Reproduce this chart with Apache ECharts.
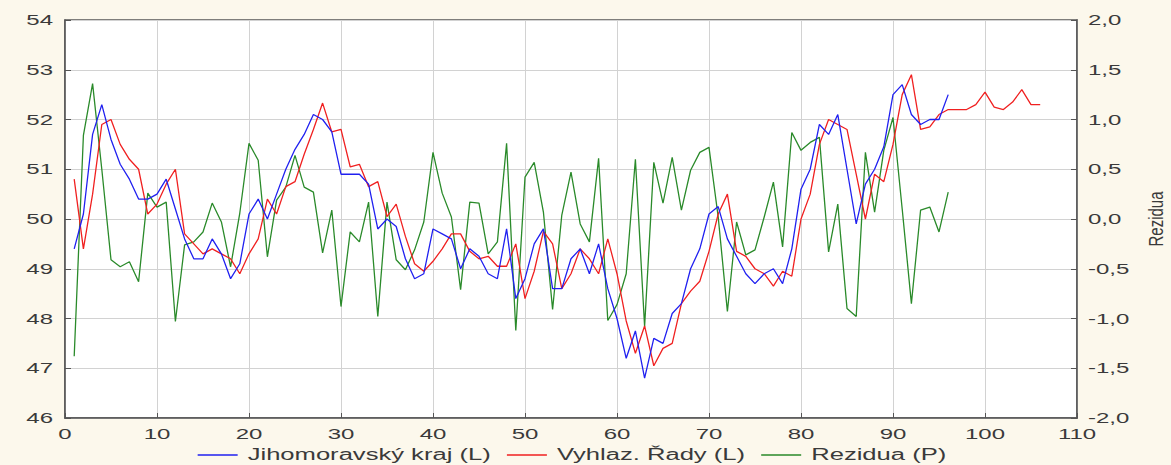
<!DOCTYPE html>
<html>
<head>
<meta charset="utf-8">
<script src="https://cdn.jsdelivr.net/npm/echarts@6/dist/echarts.min.js"></script>
<style>
  html, body { margin: 0; padding: 0; background: #fcf8ec; overflow: hidden; }
  #chart { width: 1171px; height: 465px; }
</style>
</head>
<body>
<div id="chart"></div>
<script>
// Jihomoravský kraj – observed series (left axis), indices 1..96
const jihomoravsky = [
  49.4, 50.1, 51.7, 52.3, 51.6, 51.1, 50.8, 50.4, 50.4, 50.5,
  50.8, 50.2, 49.6, 49.2, 49.2, 49.6, 49.3, 48.8, 49.1, 50.1,
  50.4, 50.0, 50.5, 51.0, 51.4, 51.7, 52.1, 52.0, 51.75, 50.9,
  50.9, 50.9, 50.7, 49.8, 50.0, 49.85, 49.2, 48.8, 48.9, 49.8,
  49.7, 49.6, 49.0, 49.4, 49.25, 48.9, 48.8, 49.8, 48.4, 48.8,
  49.5, 49.8, 48.6, 48.6, 49.2, 49.4, 48.9, 49.5, 48.6, 48.0,
  47.2, 47.75, 46.8, 47.6, 47.5, 48.1, 48.3, 49.0, 49.4, 50.1,
  50.25, 49.6, 49.25, 48.9, 48.7, 48.9, 49.0, 48.7, 49.4, 50.6,
  51.0, 51.9, 51.7, 52.1, 51.0, 49.9, 50.7, 51.0, 51.45, 52.5,
  52.7, 52.1, 51.9, 52.0, 52.0, 52.5
];

// Smoothed series incl. forecast (left axis), indices 1..106
const vyhlazene = [
  50.8, 49.4, 50.5, 51.9, 52.0, 51.5, 51.2, 51.0, 50.1, 50.3,
  50.7, 51.0, 49.7, 49.5, 49.3, 49.4, 49.3, 49.2, 48.9, 49.3,
  49.6, 50.4, 50.1, 50.65, 50.75, 51.3, 51.8, 52.33, 51.75, 51.8,
  51.05, 51.1, 50.65, 50.75, 50.05, 50.3, 49.65, 49.1, 48.95, 49.15,
  49.4, 49.7, 49.7, 49.35, 49.2, 49.25, 49.05, 49.05, 49.5, 48.4,
  48.95, 49.75, 49.5, 48.6, 48.9, 49.4, 49.2, 48.9, 49.6, 48.9,
  47.95, 47.3, 47.85, 47.05, 47.4, 47.5, 48.3, 48.55, 48.75, 49.35,
  50.1, 50.5, 49.35, 49.25, 49.0, 48.9, 48.65, 48.95, 48.85, 50.0,
  50.5, 51.5, 52.0, 51.9, 51.8, 50.9, 50.0, 50.9, 50.75, 51.5,
  52.5, 52.9, 51.8, 51.85, 52.1, 52.2, 52.2, 52.2, 52.3, 52.55,
  52.25, 52.2, 52.35, 52.6, 52.3, 52.3
];

// Residuals (right axis), indices 1..96
const rezidua = [
  -1.38, 0.84, 1.36, 0.5, -0.41, -0.48, -0.43, -0.63, 0.26, 0.12,
  0.17, -1.03, -0.26, -0.23, -0.13, 0.16, -0.03, -0.48, 0.06, 0.76,
  0.59, -0.38, 0.19, 0.32, 0.64, 0.32, 0.27, -0.34, 0.09, -0.88,
  -0.13, -0.23, 0.17, -0.98, 0.17, -0.41, -0.51, -0.31, -0.03, 0.67,
  0.26, 0.02, -0.71, 0.17, 0.16, -0.35, -0.23, 0.76, -1.12, 0.42,
  0.57, 0.07, -0.91, 0.04, 0.47, -0.05, -0.23, 0.61, -1.02, -0.86,
  -0.55, 0.6, -1.08, 0.57, 0.16, 0.62, 0.09, 0.49, 0.67, 0.72,
  0.02, -0.93, -0.03, -0.36, -0.31, 0.02, 0.37, -0.28, 0.87, 0.69,
  0.77, 0.82, -0.33, 0.15, -0.9, -0.98, 0.67, 0.07, 0.69, 1.02,
  0.1, -0.85, 0.09, 0.12, -0.13, 0.27
];

// Tick labels
const xTicks = [0, 10, 20, 30, 40, 50, 60, 70, 80, 90, 100, 110];
const leftTicks = [46, 47, 48, 49, 50, 51, 52, 53, 54];
const rightTicks = [-2.0, -1.5, -1.0, -0.5, 0.0, 0.5, 1.0, 1.5, 2.0];

const seriesNames = ['Jihomoravský kraj (L)', 'Vyhlaz. Řady (L)', 'Rezidua (P)'];
const seriesColors = ['#2020f0', '#f02020', '#2a8a2a'];
const rightAxisName = 'Rezidua';

// pair each value with its time index (starting at 1)
const indexed = arr => arr.map((v, i) => [i + 1, v]);
const czNum = v => v.toFixed(1).replace('.', ',');

// the text of this chart is drawn wide: glyphs are stretched horizontally
const FONT_FAMILY = '"Liberation Sans", Arial, sans-serif';
const FONT_SIZE = 15;
const STRETCH = 1.6;
const TEXT_COLOR = '#3a3a3a';

const chart = echarts.init(document.getElementById('chart'), null, { renderer: 'svg' });

const axisLineStyle = { color: '#555555', width: 1.5 };
const gridLineStyle = { color: '#d2d2d2', width: 1 };

chart.setOption({
  animation: false,
  backgroundColor: '#fcf8ec',
  grid: {
    left: 65, right: 94, top: 20, bottom: 47,
    outerBoundsMode: 'none',
    show: true, backgroundColor: '#ffffff',
    borderColor: '#555555', borderWidth: 1.5
  },
  xAxis: {
    type: 'value', min: 0, max: 110, interval: 10,
    axisLine: { onZero: false, lineStyle: axisLineStyle },
    axisTick: { inside: true, length: 5, lineStyle: { color: '#555555' } },
    axisLabel: { show: false },
    splitLine: { show: true, lineStyle: gridLineStyle }
  },
  yAxis: [
    {
      type: 'value', min: 46, max: 54, interval: 1, position: 'left',
      axisLine: { show: true, onZero: false, lineStyle: axisLineStyle },
      axisTick: { show: true, inside: true, length: 6, lineStyle: { color: '#555555' } },
      axisLabel: { show: false },
      splitLine: { show: true, lineStyle: gridLineStyle }
    },
    {
      type: 'value', min: -2, max: 2, interval: 0.5, position: 'right',
      axisLine: { show: true, onZero: false, lineStyle: axisLineStyle },
      axisTick: { show: true, inside: true, length: 6, lineStyle: { color: '#555555' } },
      axisLabel: { show: false },
      splitLine: { show: false }
    }
  ],
  series: [
    {
      name: seriesNames[0], type: 'line', yAxisIndex: 0,
      data: indexed(jihomoravsky), showSymbol: false, symbol: 'none',
      lineStyle: { color: seriesColors[0], width: 1.3 }, z: 3
    },
    {
      name: seriesNames[1], type: 'line', yAxisIndex: 0,
      data: indexed(vyhlazene), showSymbol: false, symbol: 'none',
      lineStyle: { color: seriesColors[1], width: 1.3 }, z: 2
    },
    {
      name: seriesNames[2], type: 'line', yAxisIndex: 1,
      data: indexed(rezidua), showSymbol: false, symbol: 'none',
      lineStyle: { color: seriesColors[2], width: 1.3 }, z: 1
    }
  ]
});

// ---- stretched labels, placed through the axes' own scales ----
function label(text, x, y, align, size) {
  const fs = size || FONT_SIZE;
  return {
    type: 'text', x: x, y: y, scaleX: STRETCH, z: 10, silent: true,
    style: {
      text: text, fill: TEXT_COLOR,
      font: fs + 'px ' + FONT_FAMILY,
      fontSize: fs, fontFamily: FONT_FAMILY,
      align: align, verticalAlign: 'middle',
      textAlign: align, textVerticalAlign: 'middle'
    }
  };
}

const px = v => chart.convertToPixel({ xAxisIndex: 0 }, v);
const pyL = v => chart.convertToPixel({ yAxisIndex: 0 }, v);
const pyR = v => chart.convertToPixel({ yAxisIndex: 1 }, v);

const plotLeft = px(0), plotRight = px(110);
const plotBottom = pyL(46), plotTop = pyL(54);

const graphics = [];
xTicks.forEach(v => graphics.push(label(String(v), px(v), plotBottom + 16, 'center')));
leftTicks.forEach(v => graphics.push(label(String(v), plotLeft - 12, pyL(v), 'right')));
rightTicks.forEach(v => graphics.push(label(czNum(v), plotRight + 11, pyR(v), 'left')));

// right axis title, rotated to read bottom-to-top
graphics.push({
  type: 'text', x: plotRight + 79, y: (plotTop + plotBottom) / 2,
  rotation: Math.PI / 2, scaleY: 1.4, z: 10, silent: true,
  style: {
    text: rightAxisName, fill: TEXT_COLOR,
    font: FONT_SIZE + 'px ' + FONT_FAMILY,
    fontSize: FONT_SIZE, fontFamily: FONT_FAMILY,
    align: 'center', verticalAlign: 'middle',
    textAlign: 'center', textVerticalAlign: 'middle'
  }
});

// legend row: line sample + stretched name, centred under the plot
const LEGEND_FONT = 16;
const measureCtx = document.createElement('canvas').getContext('2d');
measureCtx.font = LEGEND_FONT + 'px ' + FONT_FAMILY;
const iconW = 40, iconGap = 10, itemGap = 16;
const widths = seriesNames.map(n => measureCtx.measureText(n).width * STRETCH);
const total = widths.reduce((a, w) => a + iconW + iconGap + w, 0) + itemGap * (seriesNames.length - 1);
let lx = 572 - total / 2;
const legendY = plotBottom + 37;
seriesNames.forEach((n, i) => {
  graphics.push({
    type: 'line', z: 10, silent: true,
    shape: { x1: lx, y1: legendY, x2: lx + iconW, y2: legendY },
    style: { stroke: seriesColors[i], lineWidth: 1.3 }
  });
  graphics.push(label(n, lx + iconW + iconGap, legendY, 'left', LEGEND_FONT));
  lx += iconW + iconGap + widths[i] + itemGap;
});

chart.setOption({ graphic: graphics });
</script>
</body>
</html>
